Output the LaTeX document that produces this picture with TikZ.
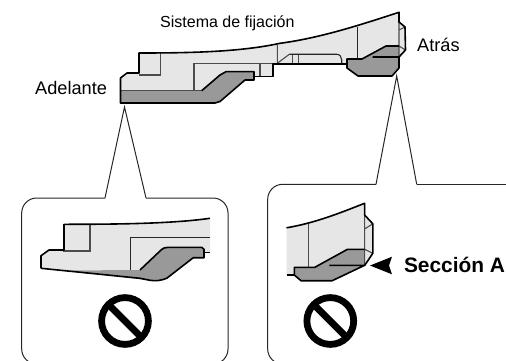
\documentclass[tikz,border=0pt]{standalone}
\usepackage{fontspec}
\setmainfont{Liberation Sans}
\definecolor{lightfill}{HTML}{E6E6E6}
\definecolor{midfill}{HTML}{999999}
\tikzset{
  part/.style={line width=1.6pt,draw=black,line join=round},
  thin part/.style={line width=1.1pt,draw=black!70},
  inner line/.style={line width=1.1pt,draw=black!85},
  callout/.style={line width=1pt,draw=black!85},
  label/.style={inner sep=0pt,font=\fontsize{18.2}{20}\selectfont},
  small label/.style={inner sep=0pt,font=\fontsize{16}{18}\selectfont},
  bold label/.style={inner sep=0pt,font=\bfseries\fontsize{20.9}{24}\selectfont},
  nosign/.style={line width=6.8pt,draw=black}
}
\begin{document}
\begin{tikzpicture}[x=1pt,y=-1pt]
\useasboundingbox (0,0) rectangle (506,361);
\clip (0,0) rectangle (506,361);
% top drawing: body
\path[fill=lightfill] (120.5,91) -- (120.5,78) -- (127,73) -- (139,73) -- (139,53) .. controls (190,53) and (240,52) .. (280,43.3) .. controls (320,38) and (360,25) .. (399,12.3) -- (399,22) -- (405,27) -- (405.5,50) -- (399,57) -- (362,59) -- (342,64) -- (272.7,64) -- (272.7,76.7) -- (254,76.7) -- (226,72) -- (201.7,91) -- cycle;
% gray pieces
\path[fill=midfill] (120.5,90.7) -- (201.7,90.7) -- (206,87) -- (220,75) -- (226,71.7) -- (254,71.7) -- (254,80) -- (245,80) -- (220,101.5) -- (215,103) -- (120.5,103) -- cycle;
\path[fill=midfill] (347,59) -- (362,59) -- (386,46) -- (399,46) -- (399,68) -- (392,76) -- (358,76) -- (347,68) -- cycle;
% inner lines
\draw[thin part] (139,75) -- (160.7,75) -- (160.7,53);
\draw[thin part] (194,90.7) -- (194,63.3) -- (272.7,63.3);
\draw[thin part] (260,63.3) -- (260,76.7);
\draw[thin part] (277.3,45) -- (277.3,63.3) -- (289.3,54.3);
\draw[thin part] (292.7,54.3) -- (292.7,64) (298.3,54.3) -- (298.3,64);
\draw[inner line] (289.3,54.3) -- (336.7,54.3) .. controls (340,54.3) and (341.7,57) .. (341.7,60) -- (341.7,64);
\draw[inner line] (357.3,26.7) -- (357.3,59);
\draw[thin part] (399,30) -- (405,27) (399,12.3) -- (399,57) (405.5,50) -- (399,46);
\draw[thin part] (120.5,90.7) -- (201.7,90.7);
% outlines
\draw[part] (120.5,91) -- (120.5,78) -- (127,73) -- (139,73) -- (139,53) .. controls (190,53) and (240,52) .. (280,43.3) .. controls (320,38) and (360,25) .. (399,12.3) -- (399,22) -- (405,27) -- (405.5,50) -- (399,57);
\draw[part] (120.5,91) -- (120.5,103) -- (215,103) -- (220,101.5) -- (245,80) -- (254,80) -- (254,71.7) -- (226,71.7) -- (220,75) -- (201.7,90.7);
\draw[part] (254,76.7) -- (272.7,76.7) -- (272.7,64) -- (347,64);
\draw[part] (372.7,57) -- (399,57) -- (399,68) -- (392,76) -- (358,76) -- (347,68) -- (347,59) -- (362,59) -- (386,46) -- (399,46);
% labels
\node[small label,anchor=base west] (sistema) at (160,28) {Sistema de fijación};
\node[label,anchor=base west] (adelante) at (35,95) {Adelante};
\node[label,anchor=base west] (atras) at (417,52) {Atrás};
% callout frames
\coordinate (apexL) at (124.5,107);
\coordinate (apexR) at (396.7,76);
\coordinate (footLa) at (105,198);
\coordinate (footLb) at (146,198);
\coordinate (footRa) at (376,184.3);
\coordinate (footRb) at (416.7,184.3);
\draw[callout] (footLa) -- (apexL) -- (footLb);
\draw[callout] (footRa) -- (apexR) -- (footRb);
\draw[callout,rounded corners=15pt] (footLa) -- (21.7,198) -- (21.7,364) -- (228,364) -- (228,198) -- (footLb);
\draw[callout,rounded corners=15pt] (footRa) -- (267.7,184.3) -- (267.7,364) -- (520,364);
\draw[callout] (footRb) -- (510,184.3);
% left detail
\begin{scope}
\clip (30,210) rectangle (210,300);
\path[fill=lightfill] (41,268.3) -- (41,255.7) -- (49,250) -- (64,250) -- (64,224.3) .. controls (110,224.3) and (170,224) .. (210,218.3) -- (210,252.3) -- (204,252.3) -- (166.7,247.3) -- (140,270) -- (63,270.5) -- cycle;
\path[fill=midfill] (63,270.5) -- (140,270) -- (160,251) .. controls (163,248) and (165,247.3) .. (168,247.3) -- (201.7,247.3) -- (204,249.3) -- (204,257.7) -- (193.3,257.7) -- (166.7,278.3) .. controls (160,281) and (155,281) .. (150,280.3) -- cycle;
\draw[thin part] (64,224.3) -- (64,251) -- (90,251) -- (90,224.3);
\draw[inner line] (130.7,270) -- (130.7,237.3) -- (210,237.3);
\draw[part] (41,268.3) -- (41,255.7) -- (49,250) -- (64,250) -- (64,224.3) .. controls (110,224.3) and (170,224) .. (210,218.3);
\draw[part] (41,268.3) -- (140,278.3) -- (150,280.3) .. controls (155,281) and (160,281) .. (166.7,278.3) -- (193.3,257.7) -- (204,257.7) -- (204,249.3) -- (201.7,247.3) -- (168,247.3) .. controls (165,247.3) and (163,248) .. (160,251) -- (140,270);
\draw[part] (204,252.3) -- (210,252.3);
\end{scope}
% right detail
\path[fill=lightfill] (286.5,227.8) .. controls (315,223) and (340,213) .. (364.6,203.3) -- (364.6,215) -- (372.8,223.8) -- (372.8,253.3) -- (364.6,266) -- (294.3,267.3) -- (294.3,275) -- (286.5,275) -- cycle;
\path[fill=midfill] (294.3,267.3) -- (314.8,267.3) -- (347.5,249.3) -- (364.6,249.3) -- (364.6,265.5) -- (332.2,280.7) -- (301,280.7) -- (294.3,275) -- cycle;
\draw[thin part] (308.5,223.3) -- (308.5,267.3);
\draw[thin part] (364.6,203.3) -- (364.6,266) (364.6,229) -- (372.8,223.8) (364.6,249.3) -- (372.8,253.3);
\draw[part] (286.5,227.8) .. controls (315,223) and (340,213) .. (364.6,203.3) -- (364.6,215) -- (372.8,223.8) -- (372.8,253.3) -- (364.6,265.5);
\draw[part] (329.3,265.3) -- (364.6,265.3) -- (332.2,280.7) -- (301,280.7) -- (294.3,275) -- (294.3,267.3) -- (314.8,267.3) -- (347.5,249.3) -- (364.6,249.3);
\draw[part] (286.5,275) -- (294.3,275);
% section arrow
\fill[black] (370,265.5) -- (392,256.7) -- (389,265.5) -- (392,274.3) -- cycle;
\node[bold label,anchor=base west] (seccion) at (403.8,272.7) {Sección A};
% prohibition signs
\draw[nosign] (125,321) circle (23.4);
\draw[nosign] (108.5,304.5) -- (141.5,337.5);
\draw[nosign] (330.3,321) circle (23.4);
\draw[nosign] (313.8,304.5) -- (346.8,337.5);
\end{tikzpicture}
\end{document}
